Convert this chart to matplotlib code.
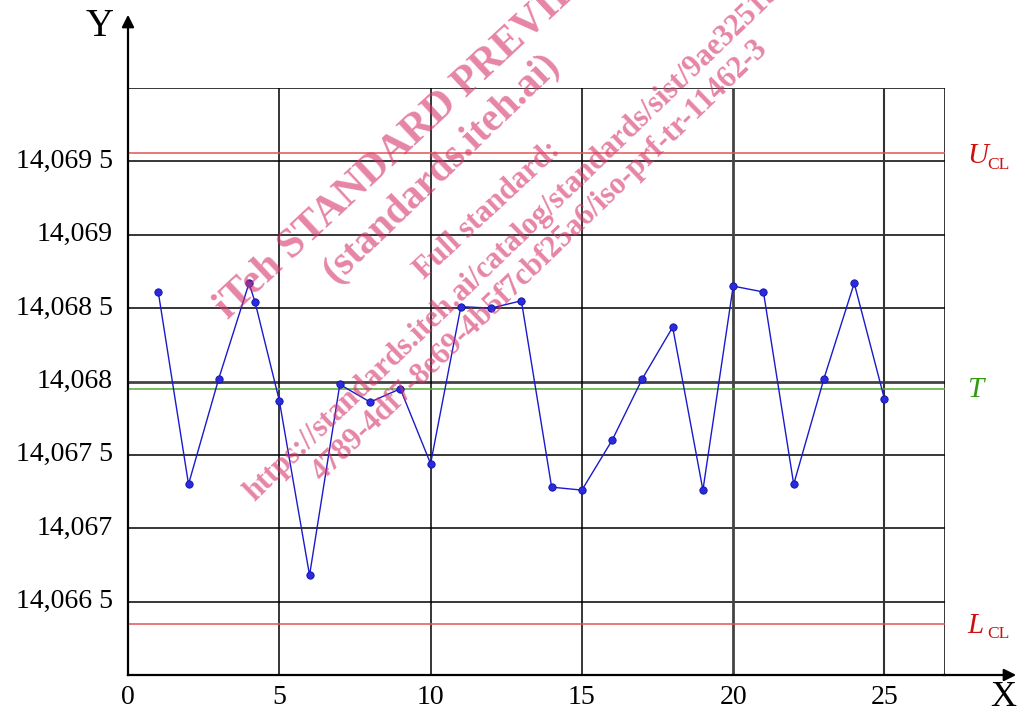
import matplotlib
matplotlib.use("Agg")
import matplotlib.pyplot as plt

# ---- data ----
sample_x = [1, 2, 3, 4, 4.2, 5, 6, 7, 8, 9, 10, 11, 12, 13, 14, 15, 16, 17, 18, 19, 20, 21, 22, 23, 24, 25]
sample_y = [14.06861, 14.06730, 14.06802, 14.06867, 14.06854, 14.06787, 14.06668, 14.06798, 14.06786,
            14.06795, 14.06744, 14.06851, 14.06850, 14.06855, 14.06728, 14.06726, 14.06760, 14.06802,
            14.06837, 14.06726, 14.06865, 14.06861, 14.06730, 14.06802, 14.06867, 14.06788]
ucl = 14.06956
target = 14.06795
lcl = 14.06635
x_ticks = [0, 5, 10, 15, 20, 25]
x_tick_labels = ["0", "5", "10", "15", "20", "25"]
y_ticks = [14.0665, 14.067, 14.0675, 14.068, 14.0685, 14.069, 14.0695]
y_tick_labels = ["14,066 5", "14,067", "14,067 5", "14,068", "14,068 5", "14,069", "14,069 5"]
watermark_lines = ["iTeh STANDARD PREVIEW", "(standards.iteh.ai)", "Full standard:",
                   "https://standards.iteh.ai/catalog/standards/sist/9ae3251b-",
                   "4789-4df7-8e69-4b5f7cbf25a6/iso-prf-tr-11462-3"]

W, H = 1022, 713
fig = plt.figure(figsize=(W / 100, H / 100), dpi=100)
ax = fig.add_axes([128 / W, 1 - 675 / H, (945 - 128) / W, (675 - 88) / H])
XMIN, XMAX, YMIN, YMAX = 0, 27, 14.066, 14.070
ax.set_xlim(XMIN, XMAX)
ax.set_ylim(YMIN, YMAX)
for s in ax.spines.values():
    s.set_visible(False)
ax.set_xticks([])
ax.set_yticks([])

serif = ["Liberation Serif", "DejaVu Serif"]

# grid
for yv in y_ticks:
    if abs(yv - 14.068) < 1e-9:
        ax.axhline(yv, color="#444444", lw=2.0, zorder=1)
    else:
        ax.axhline(yv, color="black", lw=1.1, zorder=1)
ax.axhline(YMAX, color="black", lw=1.1, zorder=1)
for xv in x_ticks[1:]:
    if xv == 20:
        ax.axvline(xv, color="#444444", lw=2.0, zorder=1)
    elif xv == 25:
        ax.axvline(xv, color="#333333", lw=1.5, zorder=1)
    else:
        ax.axvline(xv, color="black", lw=1.1, zorder=1)
ax.axvline(XMAX, color="black", lw=1.1, zorder=1)

# control lines
ax.axhline(ucl, color="#e05555", lw=1.1, zorder=2)
ax.axhline(lcl, color="#e05555", lw=1.1, zorder=2)
ax.axhline(target, color="#55aa33", lw=1.1, zorder=2)

# data
ax.plot(sample_x, sample_y, color="#1a1acc", lw=1.0, marker="o", ms=5.3,
        mfc="#2a2ae0", mec="#1010a0", mew=0.6, zorder=3)

# axes with arrows
ax.plot([0, 0], [YMIN, YMAX], color="black", lw=1.6, zorder=4, clip_on=False)
ax.plot([XMIN, XMAX], [YMIN, YMIN], color="black", lw=1.6, zorder=4, clip_on=False)
ax.annotate("", xy=(128 / W, 1 - 12 / H), xytext=(128 / W, 1 - 90 / H), xycoords="figure fraction",
            arrowprops=dict(arrowstyle="-|>", color="black", lw=1.6, mutation_scale=18))
ax.annotate("", xy=(1019 / W, 1 - 675 / H), xytext=(940 / W, 1 - 675 / H), xycoords="figure fraction",
            arrowprops=dict(arrowstyle="-|>", color="black", lw=1.6, mutation_scale=18))

fig.text(100 / W, 1 - 27 / H, "Y", fontsize=28, family=serif, ha="center", va="center")
fig.text(1003 / W, 1 - 697 / H, "X", fontsize=26, family=serif, ha="center", va="center")

# tick labels
for xv, lab in zip(x_ticks, x_tick_labels):
    ax.text(xv, YMIN - 0.000155, lab, fontsize=20, family=serif, ha="center", va="center")
for yv, lab in zip(y_ticks, y_tick_labels):
    ax.text(-0.5, yv, lab, fontsize=20, family=serif, ha="right", va="center")

# control labels
def ctl_label(y_main, y_sub, main, sub, color):
    ax.text(27.73, y_main, main, fontsize=21, family=serif, style="italic", color=color,
            ha="left", va="baseline")
    if sub:
        ax.text(28.39, y_sub, sub, fontsize=12.5, family=serif, color=color, ha="left", va="baseline")

ctl_label(ucl - 0.000068, ucl - 0.000109, "U", "CL", "#cc1111")
ctl_label(target - 0.000056, None, "T", None, "#339911")
ctl_label(lcl - 0.000061, lcl - 0.000095, "L", "CL", "#cc1111")

# watermark
wm_color = (0.84, 0.2, 0.42)
wm_specs = [
    (watermark_lines[0], 228, 320, 30, 43),
    (watermark_lines[1], 335, 284, 29, 44),
    (watermark_lines[2], 424, 280, 22, 43),
    (watermark_lines[3], 254, 502, 22, 44),
    (watermark_lines[4], 322, 482, 22, 44),
]
for txt, px, py, fs, rot in wm_specs:
    fig.text(px / W, 1 - py / H, txt, fontsize=fs, family=serif, weight="bold", color=wm_color,
             alpha=0.6, rotation=rot, rotation_mode="anchor", ha="left", va="baseline", zorder=10)

fig.savefig("out.png", dpi=100)
